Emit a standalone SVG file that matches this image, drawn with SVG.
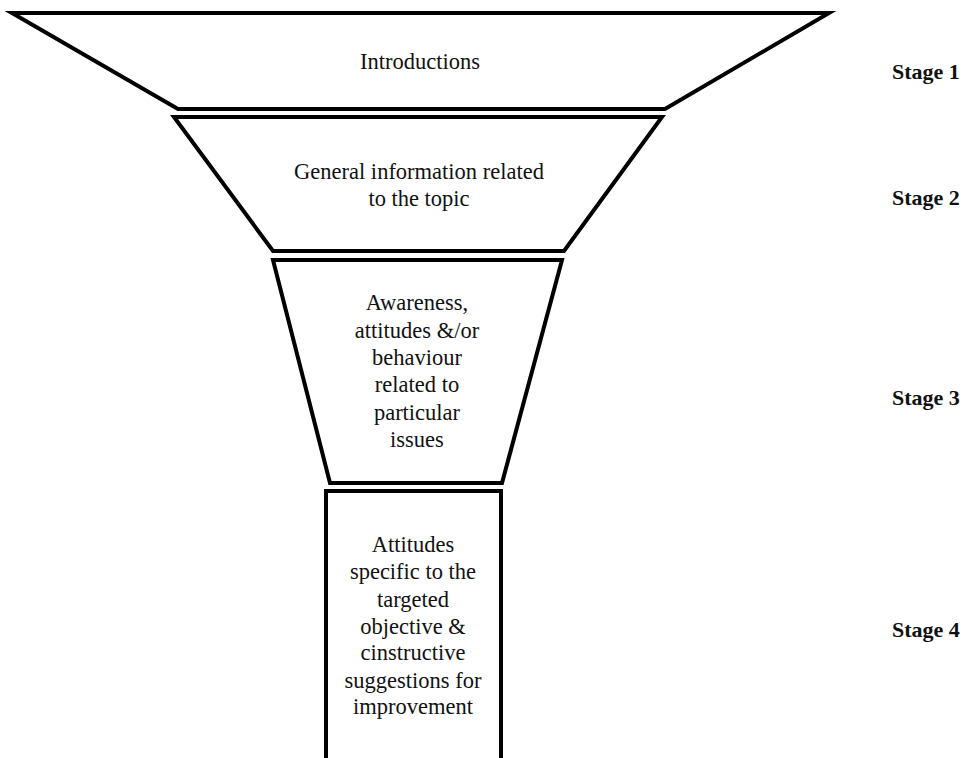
<svg xmlns="http://www.w3.org/2000/svg" width="963" height="758" viewBox="0 0 963 758">
<style>
.sh{fill:#fff;stroke:#000;stroke-width:4;stroke-linejoin:miter}
.t{font-family:'Liberation Serif','Times New Roman',serif;font-size:22.5px;fill:#111;text-anchor:middle}
.s{font-family:'Liberation Serif','Times New Roman',serif;font-size:22px;font-weight:bold;fill:#111}
</style>
<rect width="963" height="758" fill="#fff"/>
<g id="stage1">
<polygon class="sh" points="12,13 829,13 665,109 178,109"/>
<text class="t" x="420" y="69">Introductions</text>
</g>
<g id="stage2">
<polygon class="sh" points="174,117 662,117 564,251 273,251"/>
<text class="t" x="419" y="179">General information related</text>
<text class="t" x="419" y="206">to the topic</text>
</g>
<g id="stage3">
<polygon class="sh" points="273,260 562,260 502,483 330,483"/>
<text class="t" x="417" y="310">Awareness,</text>
<text class="t" x="417" y="338">attitudes &amp;/or</text>
<text class="t" x="417" y="365">behaviour</text>
<text class="t" x="417" y="392">related to</text>
<text class="t" x="417" y="420">particular</text>
<text class="t" x="417" y="447">issues</text>
</g>
<g id="stage4">
<rect class="sh" x="326" y="491" width="175" height="280" stroke-width="5"/>
<text class="t" x="413" y="552">Attitudes</text>
<text class="t" x="413" y="579">specific to the</text>
<text class="t" x="413" y="607">targeted</text>
<text class="t" x="413" y="634">objective &amp;</text>
<text class="t" x="413" y="660">cinstructive</text>
<text class="t" x="413" y="688">suggestions for</text>
<text class="t" x="413" y="714">improvement</text>
</g>
<g id="labels">
<text class="s" x="892" y="79">Stage 1</text>
<text class="s" x="892" y="205">Stage 2</text>
<text class="s" x="892" y="405">Stage 3</text>
<text class="s" x="892" y="637">Stage 4</text>
</g>
<g id="connectors"/>
</svg>
